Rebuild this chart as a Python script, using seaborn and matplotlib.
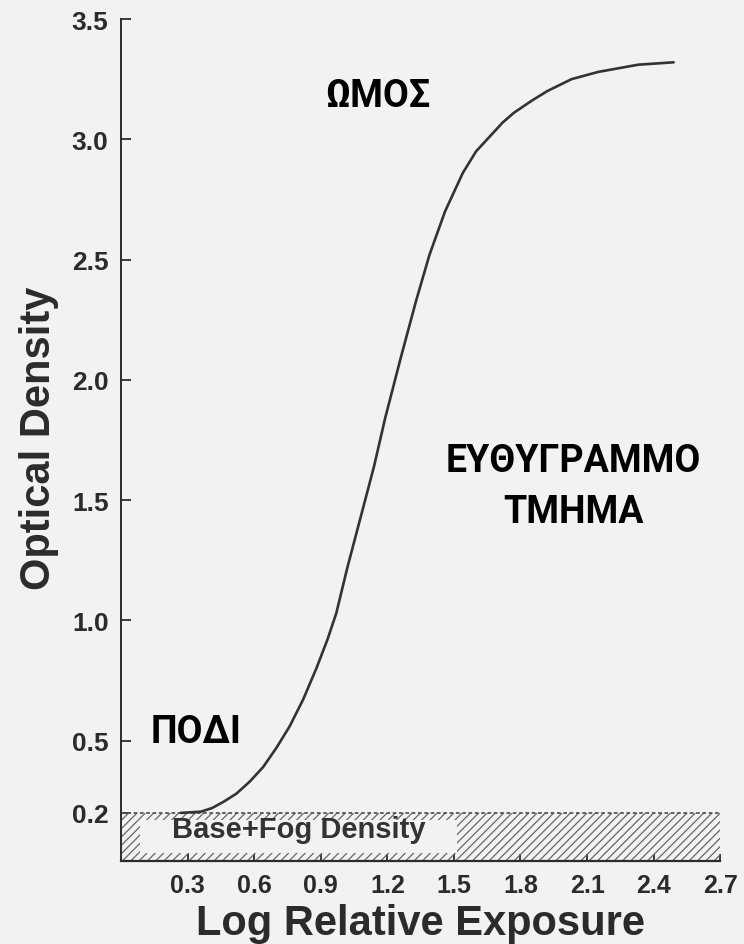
import matplotlib
matplotlib.use("Agg")
import matplotlib.pyplot as plt
import pandas as pd
import seaborn as sns

# Characteristic (H&D) curve
log_exposure = [0.27, 0.36, 0.41, 0.46, 0.52, 0.58, 0.64, 0.70, 0.76, 0.82, 0.88, 0.93,
                0.97, 1.02, 1.08, 1.14, 1.19, 1.26, 1.33, 1.39, 1.46, 1.54, 1.60, 1.66,
                1.72, 1.77, 1.85, 1.92, 2.03, 2.15, 2.33, 2.49]
optical_density = [0.20, 0.205, 0.22, 0.245, 0.28, 0.33, 0.39, 0.47, 0.56, 0.67, 0.80,
                   0.92, 1.03, 1.22, 1.43, 1.64, 1.84, 2.09, 2.33, 2.52, 2.70, 2.86, 2.95,
                   3.01, 3.07, 3.11, 3.16, 3.20, 3.25, 3.28, 3.31, 3.32]

x_ticks = [0.3, 0.6, 0.9, 1.2, 1.5, 1.8, 2.1, 2.4, 2.7]
y_ticks = [0.2, 0.5, 1.0, 1.5, 2.0, 2.5, 3.0, 3.5]
base_fog = 0.2
band_end = 2.7

# region names (Greek) and where they sit
region_labels = ["ΩΜΟΣ", "ΕΥΘΥΓΡΑΜΜΟ", "ΤΜΗΜΑ", "ΠΟΔΙ"]
region_x = [1.158, 2.04, 2.04, 0.34]
region_y = [3.138, 1.621, 1.409, 0.495]

sns.set_theme(style="ticks")
plt.rcParams["font.family"] = ["Liberation Sans", "DejaVu Sans"]
plt.rcParams["hatch.linewidth"] = 0.9

bg = "#f2f2f2"
ink = "#2b2b2b"

fig = plt.figure(figsize=(7.44, 9.45), dpi=100, facecolor=bg)
ax = fig.add_axes([121 / 744, 83 / 945, 617 / 744, 842 / 945])
ax.set_facecolor(bg)

# base + fog band with hatching
ax.fill_between([0, band_end], 0, base_fog, facecolor="none", edgecolor="#666666",
                hatch="////", linewidth=0)
ax.fill_between([0.086, 1.514], 0.035, 0.17, color=bg, linewidth=0)
ax.plot([0, band_end], [base_fog, base_fog], ls=(0, (2, 1.5)), color="#555555", lw=1.3)
ax.text(0.80, 0.10, "Base+Fog Density", ha="center", va="baseline", fontsize=21,
        fontweight="bold", color="#333333")

df = pd.DataFrame({"Log Relative Exposure": log_exposure,
                   "Optical Density": optical_density})
sns.lineplot(data=df, x="Log Relative Exposure", y="Optical Density", ax=ax,
             color="#333333", linewidth=1.9)

ax.set_xlim(0, 2.78)
ax.set_ylim(0, 3.5)
ax.set_xticks(x_ticks, labels=[f"{v:.1f}" for v in x_ticks])
ax.set_yticks(y_ticks, labels=[f"{v:.1f}" for v in y_ticks])
ax.tick_params(axis="y", direction="in", length=7, width=1.3, pad=9, labelsize=19,
               colors=ink)
ax.tick_params(axis="x", direction="in", length=5, width=1.3, pad=9, labelsize=18,
               colors=ink)
for lab in ax.get_xticklabels() + ax.get_yticklabels():
    lab.set_fontweight("bold")

sns.despine(ax=ax)
ax.spines["left"].set_linewidth(1.4)
ax.spines["bottom"].set_linewidth(1.6)
ax.spines["left"].set_color(ink)
ax.spines["bottom"].set_color(ink)
ax.spines["bottom"].set_bounds(0, band_end)
ax.set_xlabel("")
ax.set_ylabel("")

fig.text(420 / 744, 1 - 935 / 945, "Log Relative Exposure", ha="center", va="baseline",
         fontsize=30, fontweight="bold", color=ink)
fig.text(50 / 744, 1 - 438 / 945, "Optical Density", ha="center", va="baseline",
         rotation=90, rotation_mode="anchor", fontsize=30, fontweight="bold", color=ink)

for label, x, y in zip(region_labels, region_x, region_y):
    ax.text(x, y, label, ha="center", va="baseline", fontsize=27, fontweight="bold",
            color="black", family=["Roboto", "DejaVu Sans"])

fig.savefig("out.png", dpi=100, facecolor=bg)
